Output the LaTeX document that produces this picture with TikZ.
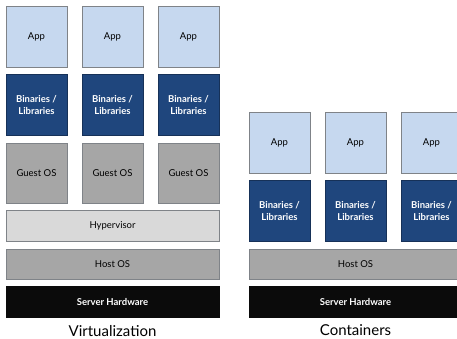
\documentclass[tikz,border=0pt]{standalone}
\usepackage{fontspec}
\setmainfont{Lato}
\usetikzlibrary{positioning}

\definecolor{applight}{HTML}{C6D8EF}
\definecolor{binblue}{HTML}{1F467D}
\definecolor{osgray}{HTML}{A6A6A6}
\definecolor{hypgray}{HTML}{D9D9D9}
\definecolor{hwblack}{HTML}{0B0B0B}
\definecolor{edgegray}{HTML}{7F8388}

\tikzset{
  box/.style={draw=edgegray,line width=0.7pt,outer sep=0pt,inner sep=0pt,
    font=\fontsize{9.5}{11.5}\selectfont,align=center},
  appbox/.style={box,fill=applight,minimum width=61pt,minimum height=61pt},
  binbox/.style={box,fill=binblue,draw=binblue!70!black,text=white,
    font=\fontsize{9.5}{11.5}\selectfont\bfseries,minimum width=61pt,minimum height=61pt},
  guestbox/.style={box,fill=osgray,minimum width=61pt,minimum height=60pt},
  hypbox/.style={box,fill=hypgray,minimum width=213pt,minimum height=31pt},
  hostbox/.style={box,fill=osgray,minimum width=213pt,minimum height=30pt},
  hwbox/.style={box,fill=hwblack,draw=hwblack,text=white,
    font=\fontsize{9.5}{11.5}\selectfont\bfseries,minimum width=213pt,minimum height=31pt},
  caption/.style={font=\fontsize{15}{17}\selectfont}
}

\begin{document}
\begin{tikzpicture}[x=1pt,y=1pt,node distance=7.5pt and 15pt]
	\clip (0,0) rectangle (457,-339);
	% virtualization
	\node[appbox,anchor=north west] (va1) at (6,-6) {App};
	\node[appbox,right=of va1] (va2) {App};
	\node[appbox,right=of va2] (va3) {App};
	
	\node[binbox,below=of va1] (vb1) {Binaries /\\Libraries};
	\node[binbox,below=of va2] (vb2) {Binaries /\\Libraries};
	\node[binbox,below=of va3] (vb3) {Binaries /\\Libraries};
	
	\node[guestbox,below=of vb1] (vg1) {Guest OS};
	\node[guestbox,below=of vb2] (vg2) {Guest OS};
	\node[guestbox,below=of vb3] (vg3) {Guest OS};
	
	\node[hypbox,below=of vg2] (vhyp) {Hypervisor};
	\node[hostbox,below=of vhyp] (vhost) {Host OS};
	\node[hwbox,below=of vhost] (vhw) {Server Hardware};
	\node[caption,below=4pt of vhw] (vcap) {Virtualization};
	
	% containers
	\node[appbox,anchor=north west] (ca1) at (249,-112) {App};
	\node[appbox,right=of ca1] (ca2) {App};
	\node[appbox,right=of ca2] (ca3) {App};
	
	\node[binbox,below=of ca1] (cb1) {Binaries /\\Libraries};
	\node[binbox,below=of ca2] (cb2) {Binaries /\\Libraries};
	\node[binbox,below=of ca3] (cb3) {Binaries /\\Libraries};
	
	\node[hostbox,below=of cb2] (chost) {Host OS};
	\node[hwbox,below=of chost] (chw) {Server Hardware};
	\node[caption,below=4pt of chw] (ccap) {Containers};
\end{tikzpicture}
\end{document}
